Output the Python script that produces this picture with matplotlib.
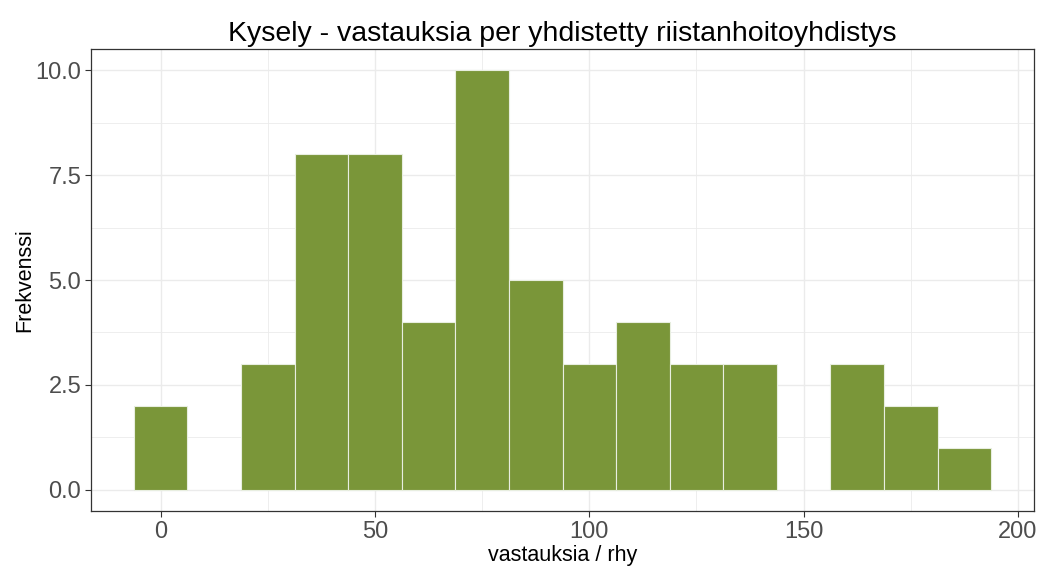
import matplotlib

matplotlib.use("Agg")
import matplotlib.pyplot as plt
import numpy as np

# Histogram bins (width 12.5) and counts
BIN_CENTERS = [0, 12.5, 25, 37.5, 50, 62.5, 75, 87.5, 100, 112.5, 125, 137.5,
               150, 162.5, 175, 187.5]
COUNTS = [2, 0, 3, 8, 8, 4, 10, 5, 3, 4, 3, 3, 0, 3, 2, 1]
BIN_WIDTH = 12.5

X_TICKS = [0, 50, 100, 150, 200]
Y_TICKS = [0.0, 2.5, 5.0, 7.5, 10.0]

TITLE = "Kysely - vastauksia per yhdistetty riistanhoitoyhdistys"
X_LABEL = "vastauksia / rhy"
Y_LABEL = "Frekvenssi"

BAR_COLOR = "#7a9639"
GRID_COLOR = "#ebebeb"
TEXT_GRAY = "#4d4d4d"

plt.rcParams["font.family"] = ["Liberation Sans", "DejaVu Sans"]

fig = plt.figure(figsize=(10.39, 5.66), dpi=100)
ax = fig.add_axes([0.0876, 0.0972, 0.9076, 0.8162])

centers = np.array(BIN_CENTERS)
counts = np.array(COUNTS)
mask = counts > 0
ax.bar(centers[mask], counts[mask], width=BIN_WIDTH, color=BAR_COLOR,
       edgecolor="#e8eee0", linewidth=0.8, zorder=2)

lo = centers.min() - BIN_WIDTH / 2
hi = centers.max() + BIN_WIDTH / 2
pad = (hi - lo) * 0.05
ax.set_xlim(lo - pad, hi + pad)
ax.set_ylim(-0.5, 10.5)

ax.set_xticks(X_TICKS)
ax.set_xticks([25, 75, 125, 175], minor=True)
ax.set_yticks(Y_TICKS)
ax.set_yticklabels([f"{v:.1f}" for v in Y_TICKS])
ax.set_yticks([1.25, 3.75, 6.25, 8.75], minor=True)

ax.grid(which="major", color=GRID_COLOR, linewidth=1.0, zorder=0)
ax.grid(which="minor", color=GRID_COLOR, linewidth=0.6, zorder=0)
ax.set_axisbelow(True)

ax.tick_params(axis="both", which="major", labelsize=17, labelcolor=TEXT_GRAY,
               color="#333333", length=4, width=0.8, pad=3)
ax.tick_params(axis="both", which="minor", length=0)
for spine in ax.spines.values():
    spine.set_color("#333333")
    spine.set_linewidth(0.9)

ax.set_title(TITLE, fontsize=20.5, color="black", pad=6)
ax.set_xlabel(X_LABEL, fontsize=15.5, labelpad=1.5)
ax.set_ylabel(Y_LABEL, fontsize=15.5, labelpad=0)

fig.savefig("out.png", dpi=100)
